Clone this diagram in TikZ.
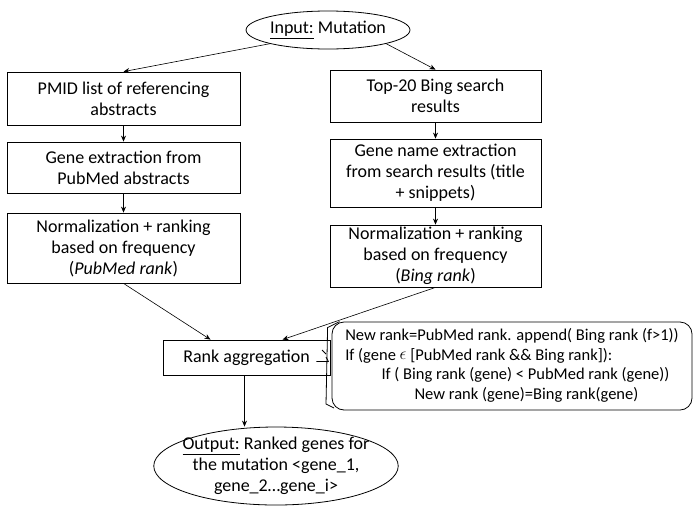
\documentclass[tikz,border=0pt]{standalone}
\usepackage{fontspec}
\setmainfont{Carlito}
\usetikzlibrary{shapes.geometric,arrows.meta}
\begin{document}
\begin{tikzpicture}[x=1pt,y=-1pt,
  box/.style={draw,thick,align=center,font=\fontsize{18}{21}\selectfont,inner sep=0pt},
  ell/.style={draw,thick,ellipse,align=center,font=\fontsize{18}{21}\selectfont,inner sep=0pt},
  arr/.style={-{Stealth[length=6pt,width=5pt]},semithick}]
\useasboundingbox (0,0) rectangle (700,509);
\node[ell,minimum width=150,minimum height=38] (in) at (328,30) {\underline{Input:} Mutation};
\node[box,minimum width=233,minimum height=53] (l1) at (123.5,98.5) {PMID list of referencing\\abstracts};
\node[box,minimum width=233,minimum height=51] (l2) at (123.5,167.5) {Gene extraction from\\PubMed abstracts};
\node[box,minimum width=233,minimum height=70] (l3) at (123.5,248) {Normalization + ranking\\based on frequency\\(\textit{PubMed rank})};
\node[box,minimum width=211,minimum height=52] (r1) at (435.5,96) {Top-20 Bing search\\results};
\node[box,minimum width=211,minimum height=68] (r2) at (435.5,173) {Gene name extraction\\from search results (title\\+ snippets)};
\node[box,minimum width=211,minimum height=62] (r3) at (435.5,256) {Normalization + ranking\\based on frequency\\(\textit{Bing rank})};
\node[box,minimum width=167,minimum height=35] (ra) at (246.5,357.5) {Rank aggregation};
\node[ell,inner sep=-7pt,minimum width=240,minimum height=78] (out) at (276,466) {\underline{Output:} Ranked genes for\\the mutation <gene\_1,\\gene\_2\ldots gene\_i>};
\node[draw,thick,rounded corners=12pt,minimum width=360,minimum height=88,align=left,font=\fontsize{16.5}{19.5}\selectfont,inner sep=0pt] (cb) at (512,366)
 {\begin{tabular}{@{}l@{}}New rank=PubMed rank. append( Bing rank (f>1))\\
 If (gene \raisebox{.1ex}{$\epsilon$} [PubMed rank \&\& Bing rank]):\\
 \hspace{2.2em}If ( Bing rank (gene) < PubMed rank (gene))\\
 \hspace{4.2em}New rank (gene)=Bing rank(gene)\end{tabular}};
\draw[thick] (cb.north west) ++(8,0) -- ++(-12,6) -- (326,404) -- (334,408);
\draw[thick] (322,350) -- (326,354);
\draw[thick] (ra.east) ++(-14,4) -- ++(12,0) -- (326,357);
\draw[arr] (in.south west) -- (l1.north);
\draw[arr] (in.south east) -- (r1.north);
\draw[arr] (l1) -- (l2);
\draw[arr] (l2) -- (l3);
\draw[arr] (r1) -- (r2);
\draw[arr] (r2) -- (r3);
\draw[arr] (l3.south) -- ([xshift=-36]ra.north);
\draw[arr] (r3.south) -- ([xshift=36]ra.north);
\draw[arr] ([xshift=-2]ra.south) -- ([xshift=-2]ra.south |- out.north);
\end{tikzpicture}
\end{document}
